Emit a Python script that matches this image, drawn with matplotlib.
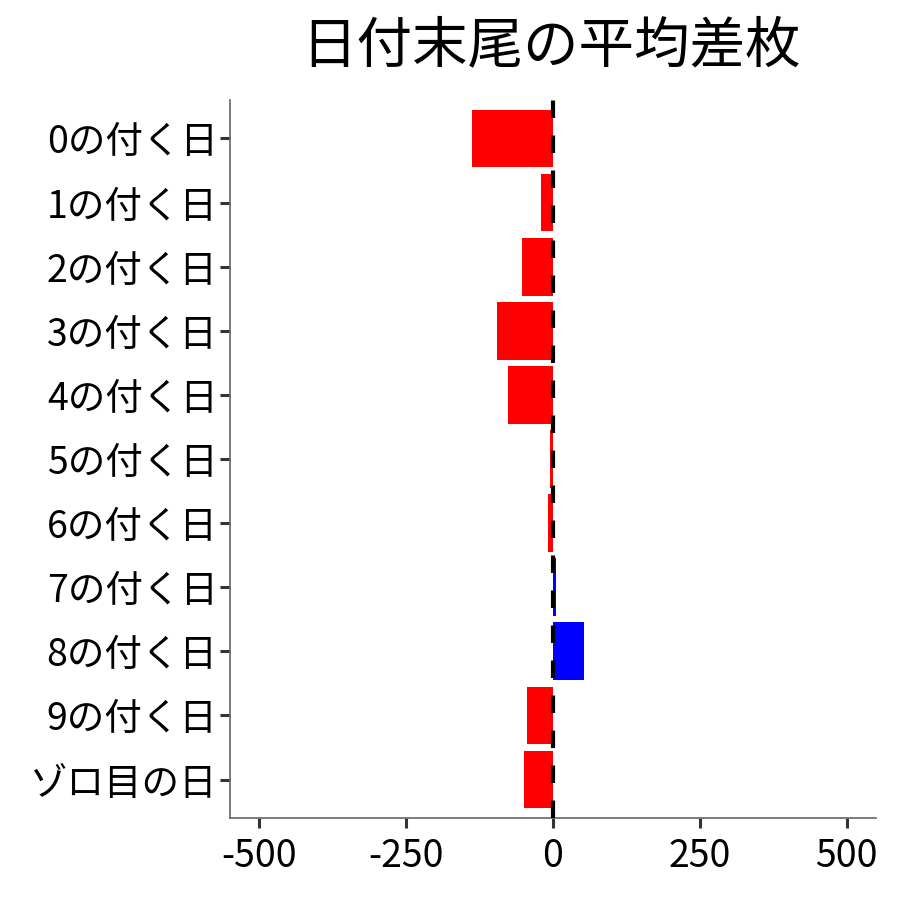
import matplotlib
matplotlib.use('Agg')
import matplotlib.pyplot as plt

plt.rcParams['font.family'] = ['Noto Sans CJK JP', 'DejaVu Sans']

labels = ['0の付く日', '1の付く日', '2の付く日', '3の付く日', '4の付く日',
          '5の付く日', '6の付く日', '7の付く日', '8の付く日', '9の付く日', 'ゾロ目の日']
values = [-138, -20, -53, -95, -77, -5, -8, 5, 53, -44, -49]
ticks = [-500, -250, 0, 250, 500]

colors = ['blue' if v > 0 else 'red' for v in values]
ypos = list(range(len(labels)))[::-1]

fig = plt.figure(figsize=(9, 9), dpi=100)
ax = fig.add_axes([0.2556, 0.0911, 0.7177, 0.7978])
ax.barh(ypos, values, height=0.9, color=colors, zorder=2)
ax.axvline(0, color='black', lw=3, dashes=(4.2, 4.2), zorder=3)

ax.set_xlim(-550, 550)
ax.set_ylim(-0.6, len(labels) - 0.4)
ax.set_xticks(ticks)
ax.set_xticklabels([str(t) for t in ticks])
ax.set_yticks(ypos)
ax.set_yticklabels(labels)
ax.tick_params(axis='both', labelsize=27, length=7, width=2.2, color='#333333', labelcolor='black', pad=2)
ax.tick_params(axis='x', pad=7)

for s in ['top', 'right']:
    ax.spines[s].set_visible(False)
for s in ['left', 'bottom']:
    ax.spines[s].set_color('#666666')
    ax.spines[s].set_linewidth(1.2)

fig.suptitle('日付末尾の平均差枚', fontsize=40, x=0.612, y=0.98, va='top')

fig.savefig('out.png', dpi=100)
